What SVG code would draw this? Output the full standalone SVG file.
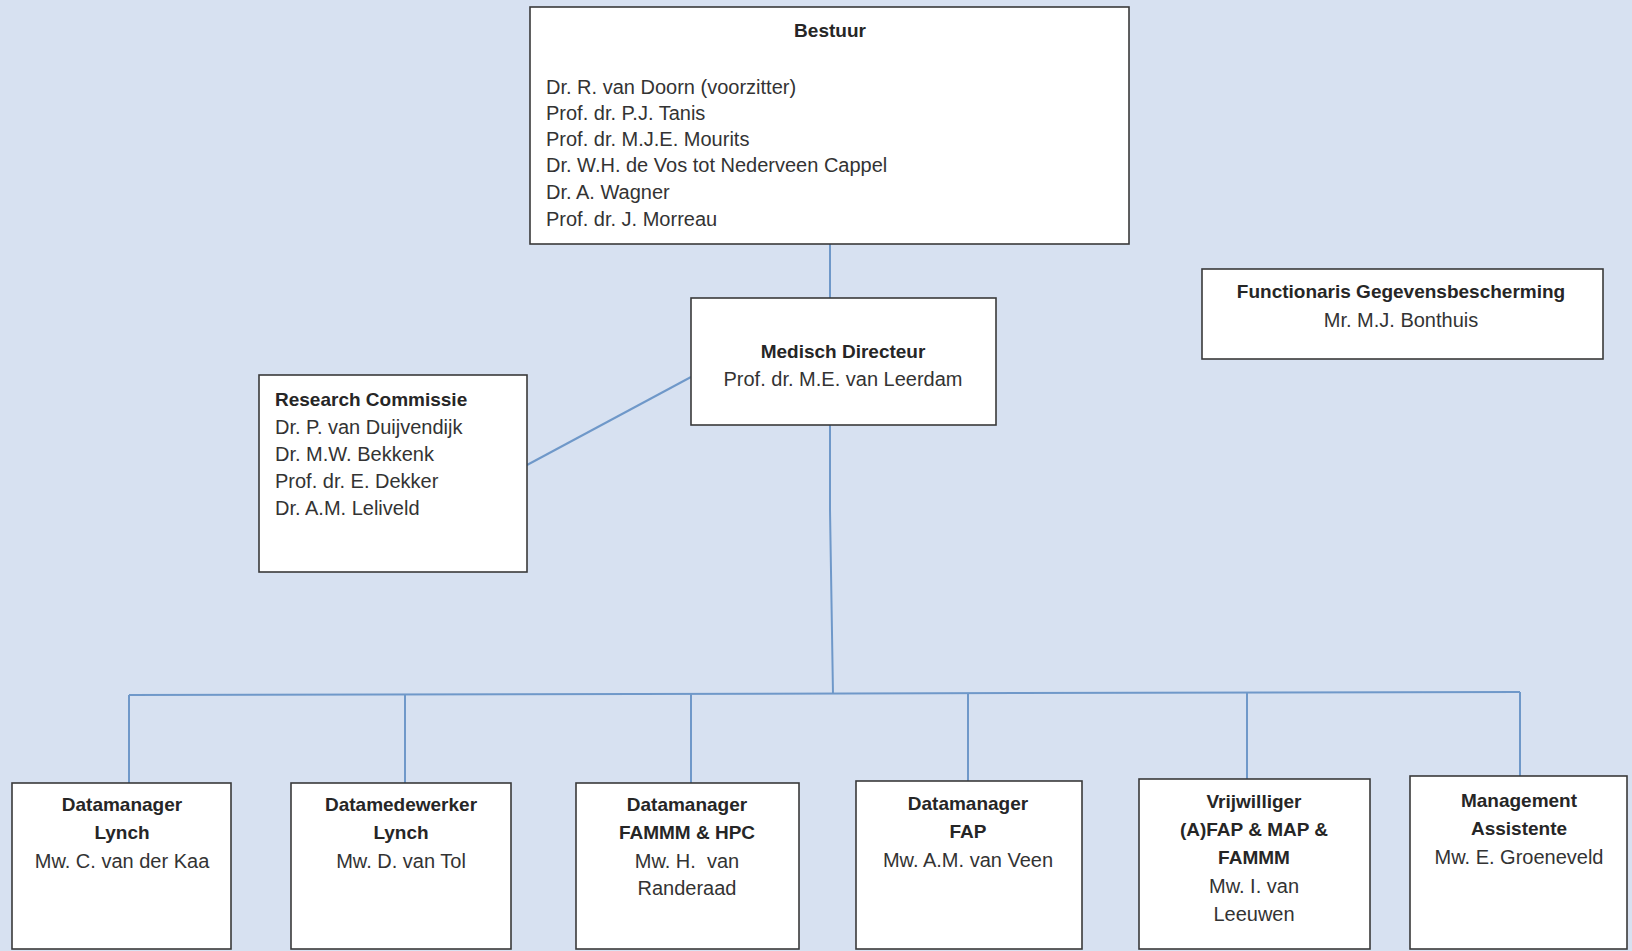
<svg xmlns="http://www.w3.org/2000/svg" width="1632" height="951" viewBox="0 0 1632 951">
<style>
.bg{fill:#d7e1f1}
.box{fill:#ffffff;stroke:#3a3a3a;stroke-width:1.6}
.con{stroke:#6f98c9;stroke-width:2;fill:none}
text{font-family:"Liberation Sans",Arial,sans-serif;font-size:20px;fill:#333333}
.b{font-weight:bold;fill:#262626;font-size:19px}
.c{text-anchor:middle}
</style>
<rect class="bg" x="0" y="0" width="1632" height="951"/>
<g id="connectors">
<line class="con" x1="830" y1="244" x2="830" y2="298"/>
<line class="con" x1="527" y1="465" x2="691" y2="377"/>
<polyline class="con" points="830,425 830,510 833,694"/>
<line class="con" x1="129" y1="695" x2="1520" y2="692"/>
<line class="con" x1="129" y1="695" x2="129" y2="783"/>
<line class="con" x1="405" y1="695" x2="405" y2="783"/>
<line class="con" x1="691" y1="694" x2="691" y2="783"/>
<line class="con" x1="968" y1="693" x2="968" y2="781"/>
<line class="con" x1="1247" y1="693" x2="1247" y2="779"/>
<line class="con" x1="1520" y1="692" x2="1520" y2="776"/>
</g>
<g id="bestuur">
<rect class="box" x="530" y="7" width="599" height="237"/>
<text class="b c" x="830" y="37">Bestuur</text>
<text x="546" y="94">Dr. R. van Doorn (voorzitter)</text>
<text x="546" y="120">Prof. dr. P.J. Tanis</text>
<text x="546" y="146">Prof. dr. M.J.E. Mourits</text>
<text x="546" y="172">Dr. W.H. de Vos tot Nederveen Cappel</text>
<text x="546" y="199">Dr. A. Wagner</text>
<text x="546" y="226">Prof. dr. J. Morreau</text>
</g>
<g id="medisch">
<rect class="box" x="691" y="298" width="305" height="127"/>
<text class="b c" x="843" y="358">Medisch Directeur</text>
<text class="c" x="843" y="386">Prof. dr. M.E. van Leerdam</text>
</g>
<g id="functionaris">
<rect class="box" x="1202" y="269" width="401" height="90"/>
<text class="b c" x="1401" y="298">Functionaris Gegevensbescherming</text>
<text class="c" x="1401" y="327">Mr. M.J. Bonthuis</text>
</g>
<g id="research">
<rect class="box" x="259" y="375" width="268" height="197"/>
<text class="b" x="275" y="406">Research Commissie</text>
<text x="275" y="434">Dr. P. van Duijvendijk</text>
<text x="275" y="461">Dr. M.W. Bekkenk</text>
<text x="275" y="488">Prof. dr. E. Dekker</text>
<text x="275" y="515">Dr. A.M. Leliveld</text>
</g>
<g id="dm-lynch">
<rect class="box" x="12" y="783" width="219" height="166"/>
<text class="b c" x="122" y="811">Datamanager</text>
<text class="b c" x="122" y="839">Lynch</text>
<text class="c" x="122" y="868">Mw. C. van der Kaa</text>
</g>
<g id="dmw-lynch">
<rect class="box" x="291" y="783" width="220" height="166"/>
<text class="b c" x="401" y="811">Datamedewerker</text>
<text class="b c" x="401" y="839">Lynch</text>
<text class="c" x="401" y="868">Mw. D. van Tol</text>
</g>
<g id="dm-fammm">
<rect class="box" x="576" y="783" width="223" height="166"/>
<text class="b c" x="687" y="811">Datamanager</text>
<text class="b c" x="687" y="839">FAMMM &amp; HPC</text>
<text class="c" x="687" y="868" xml:space="preserve">Mw. H.  van</text>
<text class="c" x="687" y="895">Randeraad</text>
</g>
<g id="dm-fap">
<rect class="box" x="856" y="781" width="226" height="168"/>
<text class="b c" x="968" y="810">Datamanager</text>
<text class="b c" x="968" y="838">FAP</text>
<text class="c" x="968" y="867">Mw. A.M. van Veen</text>
</g>
<g id="vrijwilliger">
<rect class="box" x="1139" y="779" width="231" height="170"/>
<text class="b c" x="1254" y="808">Vrijwilliger</text>
<text class="b c" x="1254" y="836">(A)FAP &amp; MAP &amp;</text>
<text class="b c" x="1254" y="864">FAMMM</text>
<text class="c" x="1254" y="893">Mw. I. van</text>
<text class="c" x="1254" y="921">Leeuwen</text>
</g>
<g id="management">
<rect class="box" x="1410" y="776" width="217" height="173"/>
<text class="b c" x="1519" y="807">Management</text>
<text class="b c" x="1519" y="835">Assistente</text>
<text class="c" x="1519" y="864">Mw. E. Groeneveld</text>
</g>
</svg>
